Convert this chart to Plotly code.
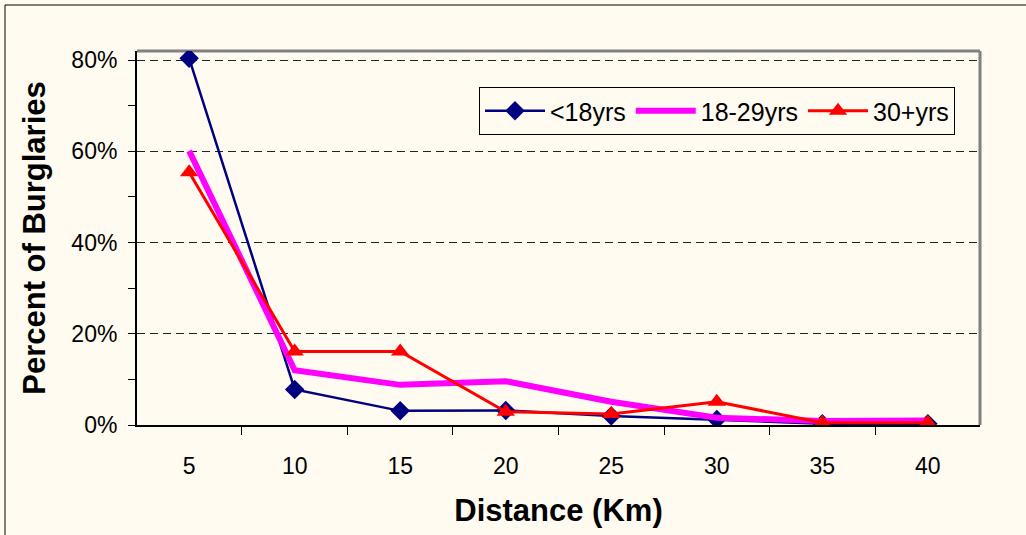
import plotly.graph_objects as go

# Distance bands (km) and share of burglaries by offender age group
distance = ["5", "10", "15", "20", "25", "30", "35", "40"]
under18 = [0.804, 0.078, 0.031, 0.032, 0.020, 0.012, 0.003, 0.003]
age18_29 = [0.601, 0.120, 0.088, 0.096, 0.051, 0.016, 0.009, 0.010]
age30plus = [0.554, 0.161, 0.161, 0.029, 0.024, 0.051, 0.005, 0.005]
y_ticks = [0.0, 0.2, 0.4, 0.6, 0.8]

BG = "#FFFBF0"
FONT = "Liberation Sans, Arial, sans-serif"

fig = go.Figure()
fig.add_trace(go.Scatter(
    x=distance, y=under18, name="<18yrs", mode="lines+markers",
    line=dict(color="#000080", width=2.5),
    marker=dict(symbol="diamond", size=15, color="#000080"),
))
fig.add_trace(go.Scatter(
    x=distance, y=age18_29, name="18-29yrs", mode="lines",
    line=dict(color="#FF00FF", width=6),
))
fig.add_trace(go.Scatter(
    x=distance, y=age30plus, name="30+yrs", mode="lines+markers",
    line=dict(color="#FF0000", width=3),
    marker=dict(symbol="triangle-up", size=16, color="#FF0000"),
))

L, R, T, B = 137, 46, 51, 110
W, H = 1026, 535
pw, ph = W - L - R, H - T - B

shapes = [
    # gray plot-area frame on top and right
    dict(type="line", xref="paper", yref="paper", x0=0, x1=1, y0=1, y1=1,
         line=dict(color="#808080", width=3), layer="below"),
    dict(type="line", xref="paper", yref="paper", x0=1, x1=1, y0=0, y1=1,
         line=dict(color="#808080", width=3), layer="below"),
    # outer chart border
    dict(type="line", xref="paper", yref="paper",
         x0=(5 - L) / pw, x1=(5 - L) / pw, y0=(H - B - 5) / ph, y1=-1,
         line=dict(color="#000000", width=1)),
    dict(type="line", xref="paper", yref="paper",
         x0=(5 - L) / pw, x1=2, y0=(H - B - 5) / ph, y1=(H - B - 5) / ph,
         line=dict(color="#000000", width=1)),
]

fig.update_layout(
    width=W, height=H,
    margin=dict(l=L, r=R, t=T, b=B),
    paper_bgcolor=BG, plot_bgcolor=BG,
    font=dict(family=FONT, size=23, color="#000000"),
    showlegend=True,
    legend=dict(
        x=(479 - L) / pw, y=(H - B - 87) / ph, xanchor="left", yanchor="top",
        orientation="h", bgcolor=BG, bordercolor="#000000", borderwidth=1,
        font=dict(family=FONT, size=25), itemwidth=60,
    ),
    shapes=shapes,
)

fig.update_xaxes(
    type="category", tickson="boundaries", ticks="outside", ticklen=8,
    tickcolor="#000000", showline=True, linecolor="#000000", linewidth=2,
    showgrid=False, ticklabelstandoff=19,
    title=dict(text="<b>Distance (Km)</b>", font=dict(family=FONT, size=31), standoff=22),
)
fig.update_yaxes(
    range=[0, 0.82], tickvals=y_ticks, tickformat=".0%",
    ticks="outside", ticklen=7, tickcolor="#000000",
    showline=True, linecolor="#000000", linewidth=2,
    showgrid=True, gridcolor="#222222", griddash="8px,5px", gridwidth=1,
    zeroline=False, ticklabelstandoff=6,
    minor=dict(tickvals=[0.1, 0.3, 0.5, 0.7], ticks="outside", ticklen=7,
               tickcolor="#000000", showgrid=False),
    title=dict(text="<b>Percent of Burglaries</b>", font=dict(family=FONT, size=31), standoff=17),
)

fig.write_html("out.html")
